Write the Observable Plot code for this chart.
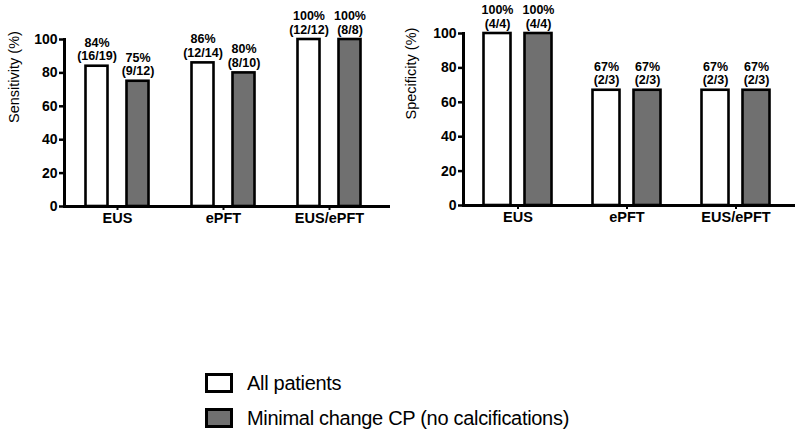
<!DOCTYPE html>
<html>
<head>
<meta charset="utf-8">
<script src="https://cdn.jsdelivr.net/npm/d3@7"></script>
<script src="https://cdn.jsdelivr.net/npm/@observablehq/plot@0.6"></script>
<style>
  html, body { margin: 0; padding: 0; background: #fff; }
  #wrap { position: relative; width: 800px; height: 440px; overflow: hidden; font-family: "Liberation Sans", Arial, sans-serif; }
  #left, #right { position: absolute; top: 0; }
  #left { left: 0; }
  #right { left: 400px; }
  #legend { position: absolute; left: 205px; top: 372px; }
  .item { display: flex; align-items: center; height: 22px; margin-bottom: 13px; }
  .box { width: 22px; height: 14px; border: 3px solid #000; box-sizing: content-box; margin-right: 14px; }
  .lab { font-size: 20px; color: #000; letter-spacing: -0.3px; }
</style>
</head>
<body>
<div id="wrap">
  <div id="left"></div>
  <div id="right"></div>
  <div id="legend"></div>
</div>
<script>
const categories = ["EUS", "ePFT", "EUS/ePFT"];
const series = ["All patients", "Minimal change CP (no calcifications)"];
const seriesColors = ["#ffffff", "#707070"];
const yTicks = [0, 20, 40, 60, 80, 100];

const sensAll = [84, 86, 100];
const sensAllFrac = ["16/19", "12/14", "12/12"];
const sensMin = [75, 80, 100];
const sensMinFrac = ["9/12", "8/10", "8/8"];

const specAll = [100, 67, 67];
const specAllFrac = ["4/4", "2/3", "2/3"];
const specMin = [100, 67, 67];
const specMinFrac = ["4/4", "2/3", "2/3"];

function rows(vals, fracs, s) {
  return categories.map((c, i) => ({category: c, series: s, value: vals[i], frac: fracs[i]}));
}

const font = "Liberation Sans, Arial, sans-serif";

function panel({all, min, label, marginTop, marginBottom, marginLeft, marginRight, pi, po, insetRight, off, labelDx}) {
  const rA = rows(all.v, all.f, series[0]);
  const rM = rows(min.v, min.f, series[1]);
  const txt = d => `${d.value}%\n(${d.frac})`;
  return Plot.plot({
    width: 400,
    height: 230,
    marginTop, marginBottom, marginLeft, marginRight,
    style: {fontFamily: font, color: "#000", background: "transparent", overflow: "visible"},
    x: {domain: categories, paddingInner: pi, paddingOuter: po, insetRight, label: null},
    y: {domain: [0, 100], label: null},
    color: {domain: series, range: seriesColors},
    marks: [
      Plot.barY(rA, {x: "category", y: "value", fill: "series", stroke: "#000", strokeWidth: 2.6, dx: -off}),
      Plot.barY(rM, {x: "category", y: "value", fill: "series", stroke: "#000", strokeWidth: 2.6, dx: off}),
      Plot.text(rA, {x: "category", y: "value", text: txt, dx: -off, dy: -6, lineAnchor: "bottom", lineHeight: 1.08, fontSize: 12.5, fontWeight: "bold", fill: "#000"}),
      Plot.text(rM, {x: "category", y: "value", text: txt, dx: off, dy: -6, lineAnchor: "bottom", lineHeight: 1.08, fontSize: 12.5, fontWeight: "bold", fill: "#000"}),
      Plot.ruleY([0], {strokeWidth: 3, stroke: "#000"}),
      Plot.frame({anchor: "left", strokeWidth: 3, stroke: "#000"}),
      Plot.axisY({ticks: yTicks, tickSize: 5, tickPadding: 2, strokeWidth: 2.5, fontSize: 14, fontWeight: "bold", label: null}),
      Plot.axisX({tickSize: 4, tickPadding: 2, strokeWidth: 2, fontSize: 14.5, fontWeight: "bold", label: null}),
      Plot.text([label], {frameAnchor: "left", text: d => d, rotate: -90, dx: labelDx, fontSize: 14.5, fill: "#000"})
    ]
  });
}

document.getElementById("left").append(panel({
  all: {v: sensAll, f: sensAllFrac}, min: {v: sensMin, f: sensMinFrac},
  label: "Sensitivity (%)",
  marginTop: 39, marginBottom: 24, marginLeft: 64, marginRight: 10,
  pi: 0.7934, po: 0.3897, insetRight: 8, off: 20.5, labelDx: -50
}));

document.getElementById("right").append(panel({
  all: {v: specAll, f: specAllFrac}, min: {v: specMin, f: specMinFrac},
  label: "Specificity (%)",
  marginTop: 33, marginBottom: 25, marginLeft: 63, marginRight: 5,
  pi: 0.754, po: 0.369, insetRight: 4.5, off: 20.5, labelDx: -52
}));

const legend = document.getElementById("legend");
series.forEach((s, i) => {
  const item = document.createElement("div");
  item.className = "item";
  const box = document.createElement("div");
  box.className = "box";
  box.style.background = seriesColors[i];
  const lab = document.createElement("span");
  lab.className = "lab";
  lab.textContent = s;
  item.append(box, lab);
  legend.append(item);
});
</script>
</body>
</html>
